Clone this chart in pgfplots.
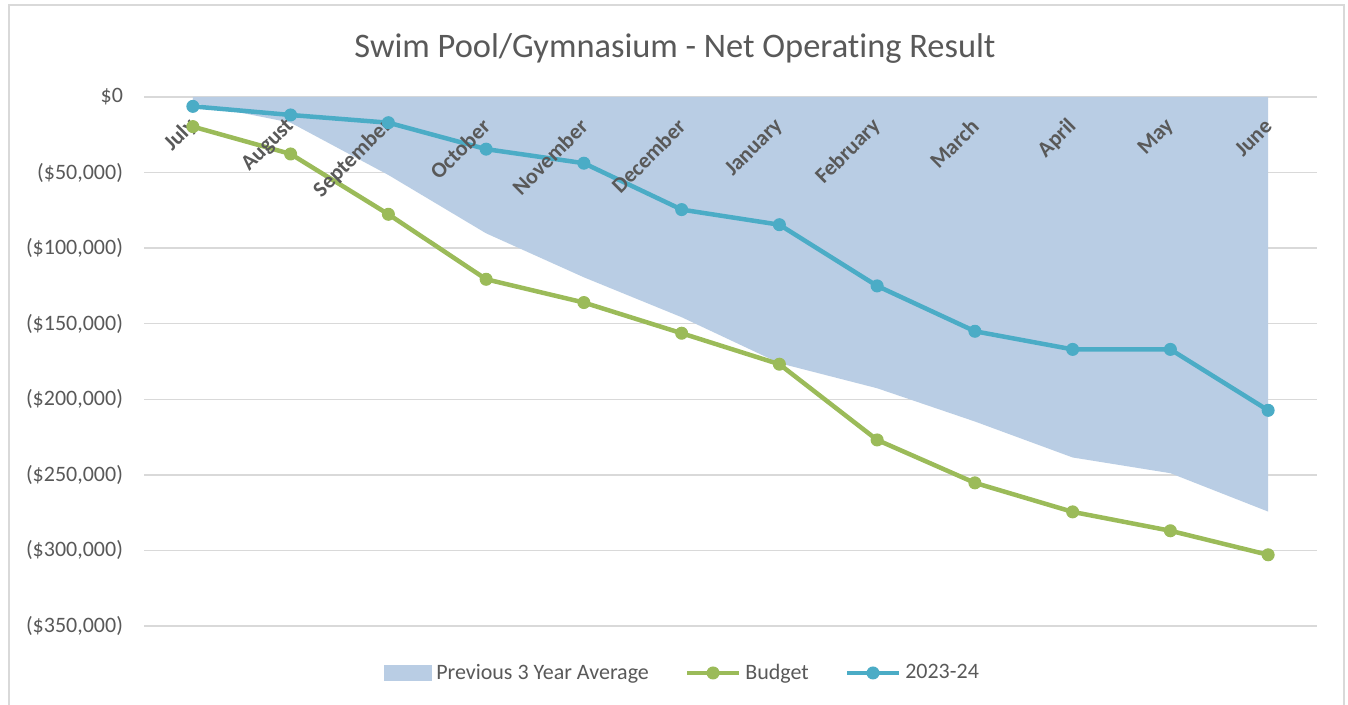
\documentclass[border=0pt]{standalone}
\usepackage{pgfplots}
\pgfplotsset{compat=1.18}
\usepackage{fontspec}
\setmainfont{Carlito}[Ligatures=NoCommon]
\definecolor{areacol}{RGB}{185,205,228}
\definecolor{budg}{RGB}{155,187,89}
\definecolor{cur}{RGB}{75,172,198}
\definecolor{gridc}{RGB}{217,217,217}
\definecolor{txt}{RGB}{89,89,89}
\pgfplotsset{
  arealeg/.style={legend image code/.code={\fill[areacol] (0pt,-4pt) rectangle (24pt,4pt);}},
  budgleg/.style={legend image code/.code={\draw[budg, line width=2.25pt, mark=*, mark size=3pt, mark options={solid, fill=budg, draw=budg, line width=0.5pt}, mark repeat=2, mark phase=2] plot coordinates {(0pt,0pt) (13pt,0pt) (26pt,0pt)};}},
  curleg/.style={legend image code/.code={\draw[cur, line width=2.25pt, mark=*, mark size=3pt, mark options={solid, fill=cur, draw=cur, line width=0.5pt}, mark repeat=2, mark phase=2] plot coordinates {(0pt,0pt) (13pt,0pt) (26pt,0pt)};}},
}
\tikzset{mon/.style={font=\bfseries\fontsize{11}{13}\selectfont, text=txt, xshift=2.5pt, yshift=-10.5pt, rotate=45, anchor=east}}
\begin{document}
\begin{tikzpicture}
\useasboundingbox (0,0) rectangle (674pt,352.5pt);
\fill[white] (0,0) rectangle (674pt,352.5pt);
\draw[gridc, line width=0.75pt] (4.5pt,-5pt) -- (4.5pt,350pt) -- (672pt,350pt) -- (672pt,-5pt);
\node[anchor=base, font=\fontsize{17.2}{20}\selectfont, text=txt] at (337.5pt,323.5pt) {Swim Pool/Gymnasium - Net Operating Result};
\begin{axis}[
  at={(72pt,39.5pt)}, anchor=south west,
  scale only axis, width=586.5pt, height=264.5pt,
  xmin=-0.5, xmax=11.5, ymin=-350000, ymax=0,
  axis line style={draw=none},
  major tick length=0pt,
  ymajorgrids, grid style={gridc, line width=0.75pt},
  scaled y ticks=false,
  ytick={-350000,-300000,-250000,-200000,-150000,-100000,-50000,0},
  yticklabels={{(\$350,000)},{(\$300,000)},{(\$250,000)},{(\$200,000)},{(\$150,000)},{(\$100,000)},{(\$50,000)},{\$0}},
  yticklabel style={font=\fontsize{11}{13}\selectfont, text=txt, anchor=east, xshift=-7pt},
  xtick=\empty,
  legend columns=3,
  legend style={at={(0.4600,-0.0888)}, anchor=center, draw=none, fill=none,
    font=\fontsize{11}{13}\selectfont, text=txt, inner sep=0pt,
    /tikz/every even column/.append style={column sep=16pt}},
]
\addplot[fill=areacol, draw=none, arealeg]
  coordinates {(0,0) (0,-4000) (1,-17000) (2,-51600) (3,-90200) (4,-119300) (5,-145700)
  (6,-176100) (7,-192700) (8,-214700) (9,-238500) (10,-248900) (11,-274300) (11,0)} -- cycle;
\addlegendentry{Previous 3 Year Average}
\addplot[budg, line width=2.25pt, line join=round, mark=*, mark size=3pt,
  mark options={solid, fill=budg, draw=budg, line width=0.5pt}, budgleg]
  coordinates {(0,-19600) (1,-37700) (2,-77600) (3,-120600) (4,-136000) (5,-156300)
  (6,-176800) (7,-226900) (8,-255300) (9,-274500) (10,-287000) (11,-302900)};
\addlegendentry{Budget}
\addplot[cur, line width=2.25pt, line join=round, mark=*, mark size=3pt,
  mark options={solid, fill=cur, draw=cur, line width=0.5pt}, curleg]
  coordinates {(0,-6200) (1,-11900) (2,-17000) (3,-34500) (4,-43800) (5,-74500)
  (6,-84500) (7,-125000) (8,-155000) (9,-167000) (10,-167000) (11,-207300)};
\addlegendentry{2023-24}
\node[mon] at (axis cs:0,0) {July};
\node[mon] at (axis cs:1,0) {August};
\node[mon] at (axis cs:2,0) {September};
\node[mon] at (axis cs:3,0) {October};
\node[mon] at (axis cs:4,0) {November};
\node[mon] at (axis cs:5,0) {December};
\node[mon] at (axis cs:6,0) {January};
\node[mon] at (axis cs:7,0) {February};
\node[mon] at (axis cs:8,0) {March};
\node[mon] at (axis cs:9,0) {April};
\node[mon] at (axis cs:10,0) {May};
\node[mon] at (axis cs:11,0) {June};
\end{axis}
\end{tikzpicture}
\end{document}
